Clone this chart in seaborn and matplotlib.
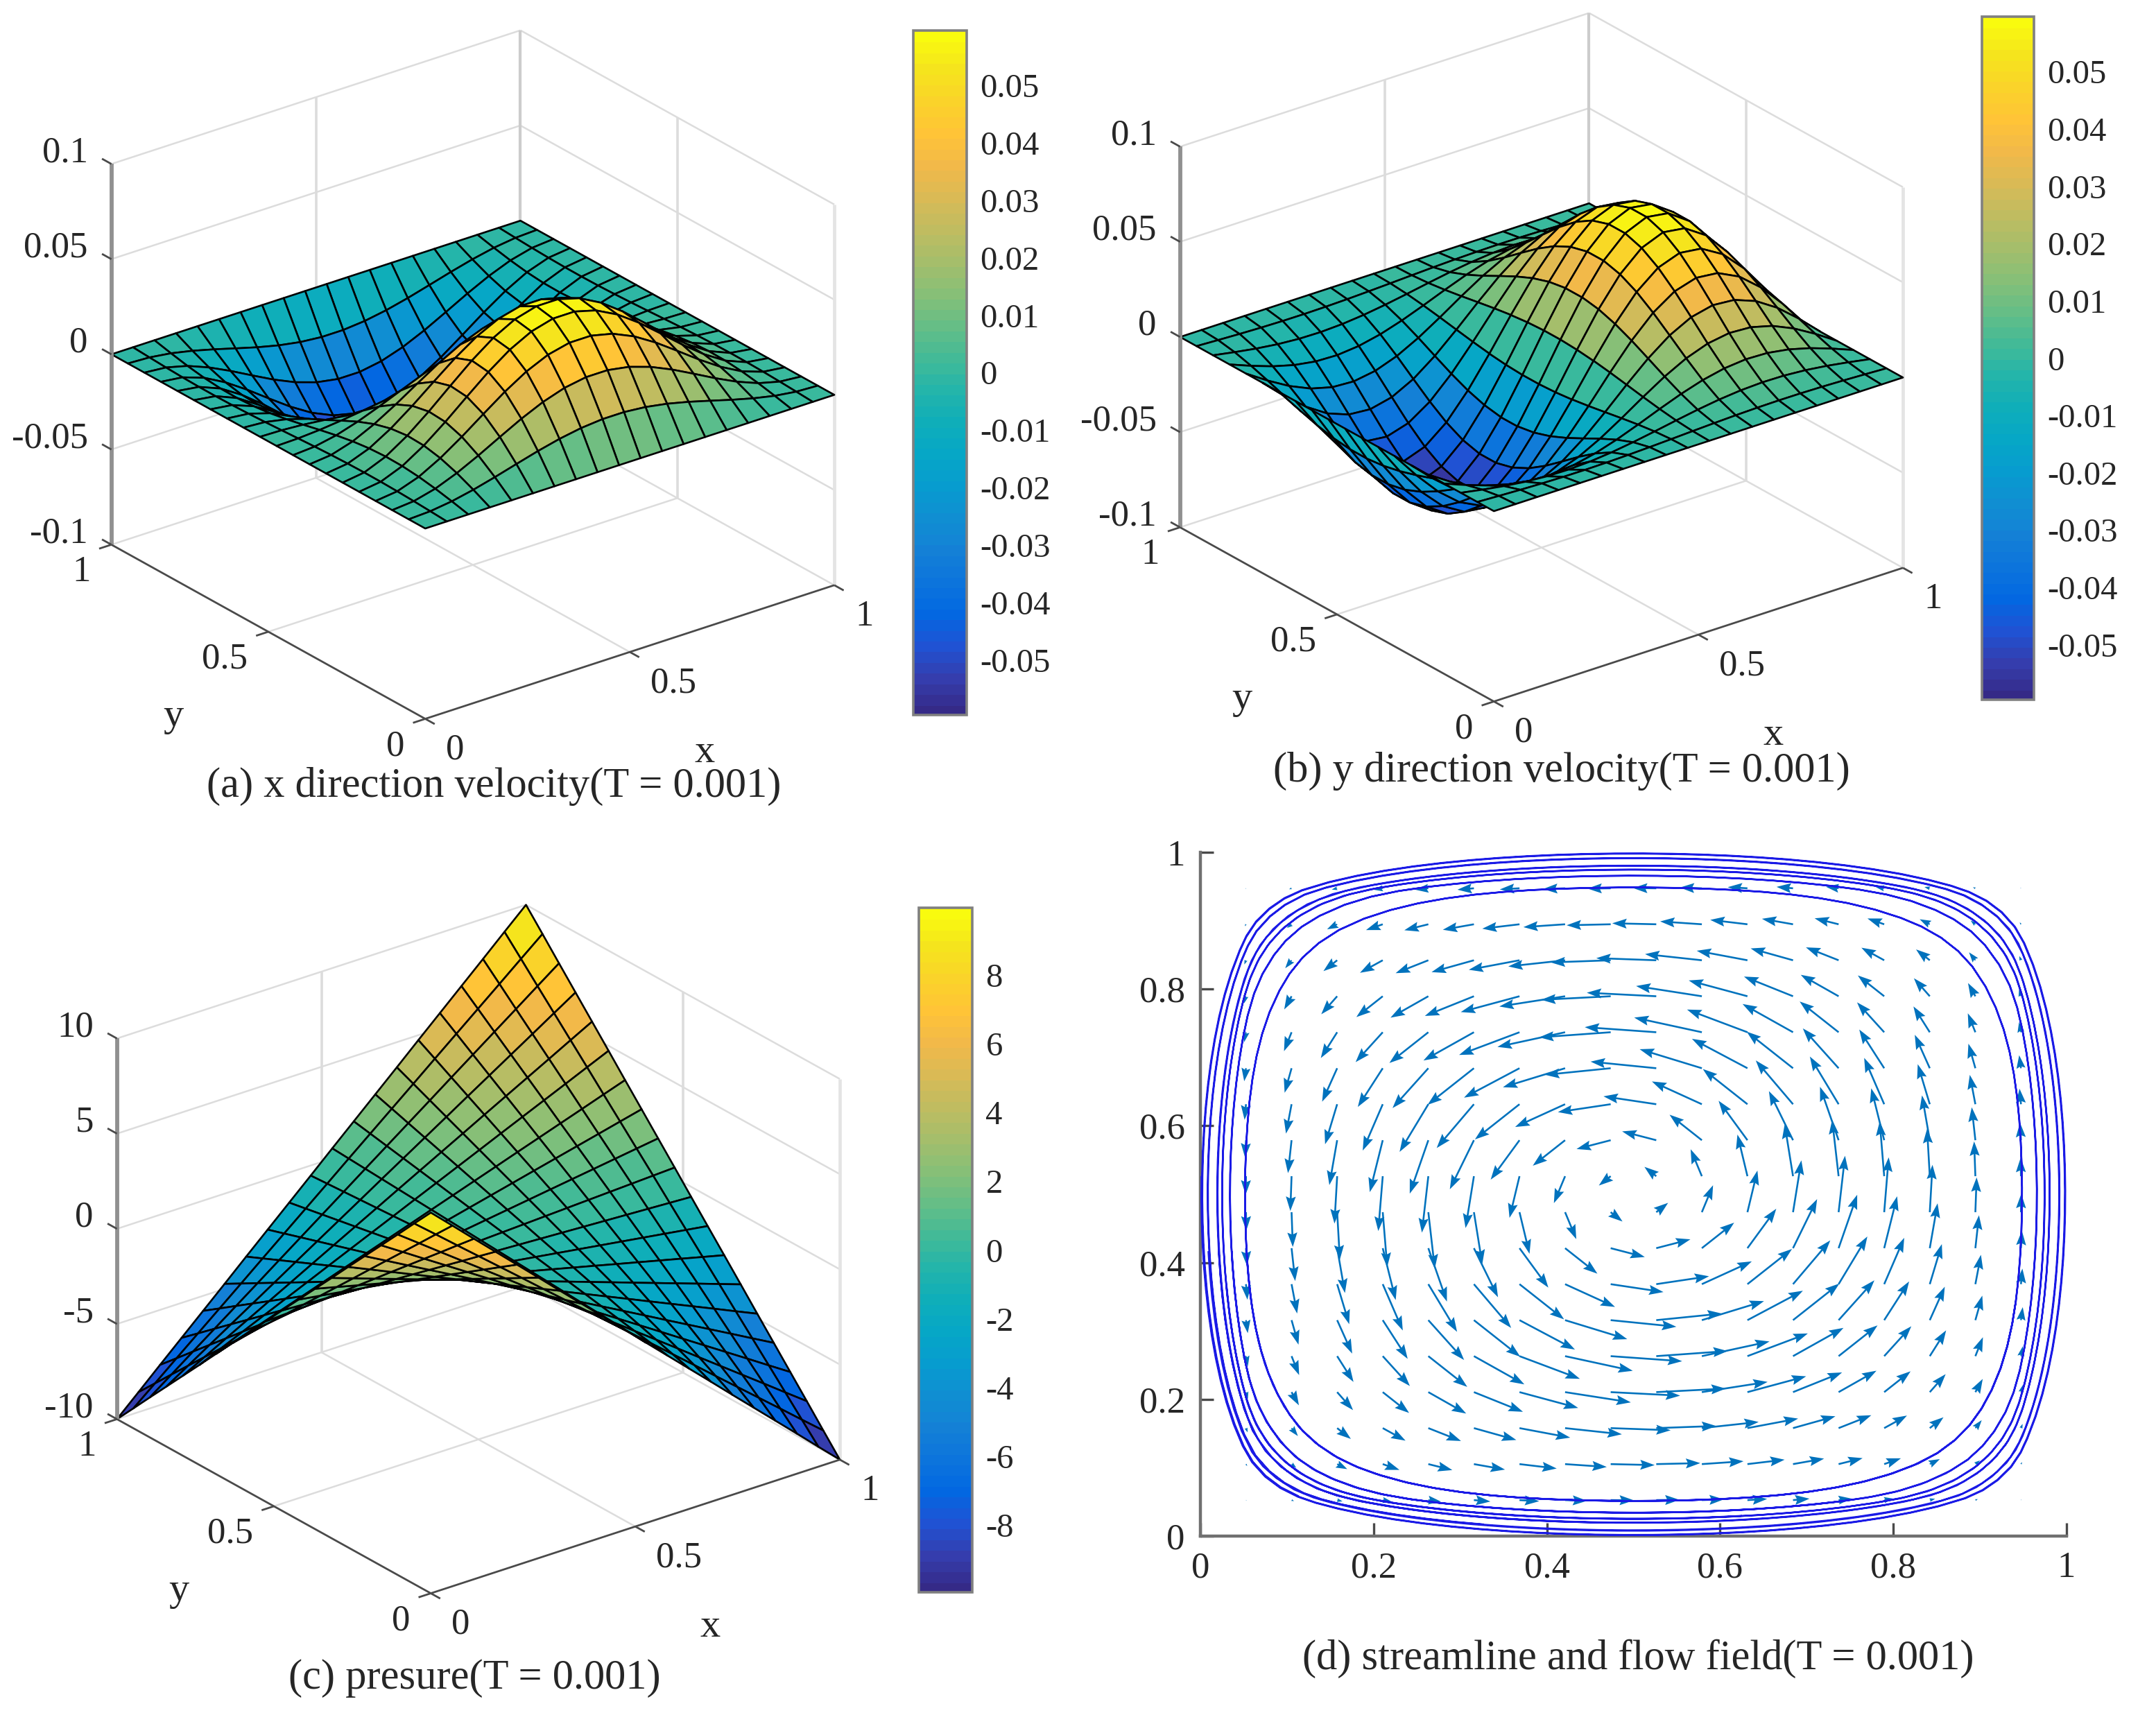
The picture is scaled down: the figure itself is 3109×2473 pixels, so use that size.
"""
Four panel flow figure: velocity surfaces, pressure surface, streamlines + quiver
"""
import numpy as np
import matplotlib
matplotlib.use('Agg')
import matplotlib.pyplot as plt
import seaborn as sns
from matplotlib.cm import ScalarMappable
from matplotlib.colors import ListedColormap, Normalize
from mpl_toolkits.mplot3d import proj3d

# ── Data (20 x 20 grid, values along one grid line) ──
GRID = np.linspace(0, 1, 20)

# bell shaped profile across the cavity
BELL = [0.000, 0.027, 0.105, 0.227, 0.377, 0.541, 0.701, 0.839, 0.940, 0.993,
        0.993, 0.940, 0.839, 0.701, 0.541, 0.377, 0.227, 0.105, 0.027, 0.000]
# one full wave across the cavity
WAVE = [0.000, 0.325, 0.614, 0.837, 0.969, 0.997, 0.916, 0.736, 0.476, 0.165,
        -0.165, -0.476, -0.736, -0.916, -0.997, -0.969, -0.837, -0.614, -0.325, 0.000]
# straight ramp used by the pressure surface
RAMP = [-1.000, -0.895, -0.789, -0.684, -0.579, -0.474, -0.368, -0.263, -0.158, -0.053,
        0.053, 0.158, 0.263, 0.368, 0.474, 0.579, 0.684, 0.789, 0.895, 1.000]

VEL_PEAK = 0.06
PRES_PEAK = 10.0
VEL_LIM = 0.0596
PRES_LIM = 9.96

VEL_Z_TICKS = [-0.1, -0.05, 0, 0.05, 0.1]
VEL_Z_LABELS = ['-0.1', '-0.05', '0', '0.05', '0.1']
PRES_Z_TICKS = [-10, -5, 0, 5, 10]
VEL_CB_TICKS = [-0.05, -0.04, -0.03, -0.02, -0.01, 0, 0.01, 0.02, 0.03, 0.04, 0.05]
VEL_CB_LABELS = ['-0.05', '-0.04', '-0.03', '-0.02', '-0.01', '0',
                 '0.01', '0.02', '0.03', '0.04', '0.05']
PRES_CB_TICKS = [-8, -6, -4, -2, 0, 2, 4, 6, 8]
D_TICKS = [0, 0.2, 0.4, 0.6, 0.8, 1]
D_LABELS = ['0', '0.2', '0.4', '0.6', '0.8', '1']

STREAM_SEEDS = [(0.002, 0.56), (0.008, 0.45), (0.020, 0.45), (0.028, 0.40),
                (0.035, 0.45), (0.052, 0.45)]

PARULA = ['#352a87', '#353dad', '#2053d4', '#0268e1', '#0d75dc', '#1481d6',
          '#108ed2', '#079ccf', '#06a7c6', '#0faeb9', '#25b5a9', '#42ba98',
          '#65be86', '#87bf77', '#a5be6b', '#c0bc60', '#d9ba56', '#f1b94a',
          '#ffc337', '#fad32a', '#f5e41d', '#f9fb0e']

FW, FH = 3109, 2473
W = 1100

sns.set_theme(style='white')
plt.rcParams['font.family'] = ['Liberation Serif', 'DejaVu Serif']
plt.rcParams['text.color'] = '#262626'

CMAP = ListedColormap(sns.blend_palette(PARULA, n_colors=64))
GREY = '#dcdcdc'
DARK = '#4a4a4a'
FS_AXIS = 19
FS_CB = 17.5
FS_CAP = 21.8

fig = plt.figure(figsize=(FW / 200, FH / 200), dpi=200, facecolor='white')


def px_rect(x0, y0, x1, y1):
    return [x0 / FW, 1 - y1 / FH, (x1 - x0) / FW, (y1 - y0) / FH]


def box3d(ax, zlo, zhi, zticks):
    # grid and back box, drawn behind the surface
    def line(xs, ys, zs, color=GREY, lw=0.9, zorder=0):
        ax.plot(xs, ys, zs, color=color, lw=lw, zorder=zorder, solid_capstyle='butt')

    for z in zticks:
        line([0, 1], [1, 1], [z, z])
        line([1, 1], [0, 1], [z, z])
    line([0.5, 0.5], [1, 1], [zlo, zhi], lw=1.3)
    line([1, 1], [0.5, 0.5], [zlo, zhi], lw=1.3)
    line([1, 1], [1, 1], [zlo, zhi], '#cccccc', 1.5)
    line([1, 1], [0, 0], [zlo, zhi], '#e4e4e4', 1.7)
    line([0.5, 0.5], [0, 1], [zlo, zlo])
    line([0, 1], [0.5, 0.5], [zlo, zlo])

    # axis lines in front
    line([0, 1], [0, 0], [zlo, zlo], DARK, 1.0, 5)
    line([0, 0], [0, 1], [zlo, zlo], DARK, 1.0, 5)
    line([0, 0], [1, 1], [zlo, zhi], '#909090', 2.1, 5)
    for t in [0, 0.5, 1]:
        line([t, t], [0, -0.03], [zlo, zlo], DARK, 1.0, 5)
        line([0, -0.03], [t, t], [zlo, zlo], DARK, 1.0, 5)
    for z in zticks:
        line([0, 0], [1, 1.03], [z, z], DARK, 1.0, 5)


def label3d(ax, text, pos, dx, dy, ha='center', fs=FS_AXIS):
    x2, y2, _ = proj3d.proj_transform(pos[0], pos[1], pos[2], ax.get_proj())
    ax.annotate(text, xy=(x2, y2), xytext=(dx, dy), textcoords='offset pixels',
                ha=ha, va='center', fontsize=fs, annotation_clip=False)


def panel3d(cx, cy, z, zlo, zhi, zticks, zlabels, lim):
    ax = fig.add_axes(px_rect(cx - W / 2, cy - W / 2, cx + W / 2, cy + W / 2),
                      projection='3d', proj_type='ortho', computed_zorder=False)
    ax.set_xlim(0, 1, view_margin=0)
    ax.set_ylim(0, 1, view_margin=0)
    ax.set_zlim(zlo, zhi, view_margin=0)
    ax.view_init(elev=25.2, azim=-127.5)
    ax.set_box_aspect((1, 1, 0.816), zoom=1.0713)
    ax.set_axis_off()
    ax.patch.set_alpha(0)

    box3d(ax, zlo, zhi, zticks)
    xx, yy = np.meshgrid(GRID, GRID)
    ax.plot_surface(xx, yy, z, rstride=1, cstride=1, cmap=CMAP, vmin=-lim, vmax=lim,
                    edgecolor='black', linewidth=0.95, shade=False, zorder=2)

    for t, s in zip([0, 0.5, 1], ['0', '0.5', '1']):
        label3d(ax, s, (t, 0, zlo), 30, -45, ha='left')
        label3d(ax, s, (0, t, zlo), -30, -40, ha='right')
    for v, s in zip(zticks, zlabels):
        label3d(ax, s, (0, 1, v), -34, 16, ha='right')
    label3d(ax, 'x', (0.5, 0, zlo), 108, -145, fs=21)
    label3d(ax, 'y', (0, 0.5, zlo), -137, -122, fs=21)
    return ax


def colorbar(x0, y0, x1, y1, lim, ticks, labels):
    cax = fig.add_axes(px_rect(x0, y0, x1, y1))
    sm = ScalarMappable(norm=Normalize(-lim, lim), cmap=CMAP)
    cb = fig.colorbar(sm, cax=cax, ticks=ticks)
    cb.ax.set_yticklabels(labels, fontsize=FS_CB)
    cb.ax.tick_params(direction='in', length=5, width=1.0, color='#333333', pad=7, right=True)
    cb.outline.set_edgecolor('#808080')
    cb.outline.set_linewidth(1.3)
    cb.solids.set_edgecolor('face')


# ── Panel surfaces ──
bell = np.array(BELL)
wave = np.array(WAVE)
ramp = np.array(RAMP)

# rows run along y, columns along x
U = VEL_PEAK * np.outer(wave, bell)
V = -VEL_PEAK * np.outer(bell, wave)
P = PRES_PEAK * np.outer(ramp, ramp)

vel_z = [-0.1, 0.1]
panel3d(667, 555, U, *vel_z, VEL_Z_TICKS, VEL_Z_LABELS, VEL_LIM)
colorbar(1317, 44, 1394, 1031, VEL_LIM, VEL_CB_TICKS, VEL_CB_LABELS)

panel3d(2208, 530, V, *vel_z, VEL_Z_TICKS, VEL_Z_LABELS, VEL_LIM)
colorbar(2858, 24, 2933, 1009, VEL_LIM, VEL_CB_TICKS, VEL_CB_LABELS)

panel3d(675, 1816, P, -10, 10, PRES_Z_TICKS, [str(t) for t in PRES_Z_TICKS], PRES_LIM)
colorbar(1325, 1309, 1402, 2296, PRES_LIM, PRES_CB_TICKS, [str(t) for t in PRES_CB_TICKS])

# ── Panel d: streamlines and quiver ──
ax_d = fig.add_axes(px_rect(1731, 1229, 2980, 2215))
ax_d.quiver(GRID, GRID, U, V, color='#0072bd', angles='xy', scale_units='xy', scale=0.72,
            units='dots', width=2.6, headwidth=5.5, headlength=8, headaxislength=7,
            minshaft=1, minlength=0, zorder=2)
ax_d.streamplot(GRID, GRID, U, V, start_points=STREAM_SEEDS, color='#1a1ae6', linewidth=0.9,
                arrowstyle='-', integration_direction='forward', broken_streamlines=False,
                maxlength=7.5, zorder=3)
ax_d.set_xlim(0, 1)
ax_d.set_ylim(0, 1)
ax_d.set_xticks(D_TICKS)
ax_d.set_xticklabels(D_LABELS, fontsize=FS_AXIS)
ax_d.set_yticks(D_TICKS)
ax_d.set_yticklabels(D_LABELS, fontsize=FS_AXIS)
ax_d.tick_params(direction='in', length=7, width=1.2, color=DARK, pad=8,
                 left=True, bottom=True)
for side in ['left', 'bottom']:
    ax_d.spines[side].set_color('#707070')
    ax_d.spines[side].set_linewidth(1.6)
ax_d.patch.set_alpha(0)
sns.despine(ax=ax_d)

# ── Captions ──
for cap, x, y in [('(a) x direction velocity(T = 0.001)', 712, 1134),
                  ('(b) y direction velocity(T = 0.001)', 2252, 1112),
                  ('(c) presure(T = 0.001)', 684, 2420),
                  ('(d) streamline and flow field(T = 0.001)', 2362, 2392)]:
    fig.text(x / FW, 1 - y / FH, cap, ha='center', va='center', fontsize=FS_CAP)

fig.savefig('out.png', dpi=200)
